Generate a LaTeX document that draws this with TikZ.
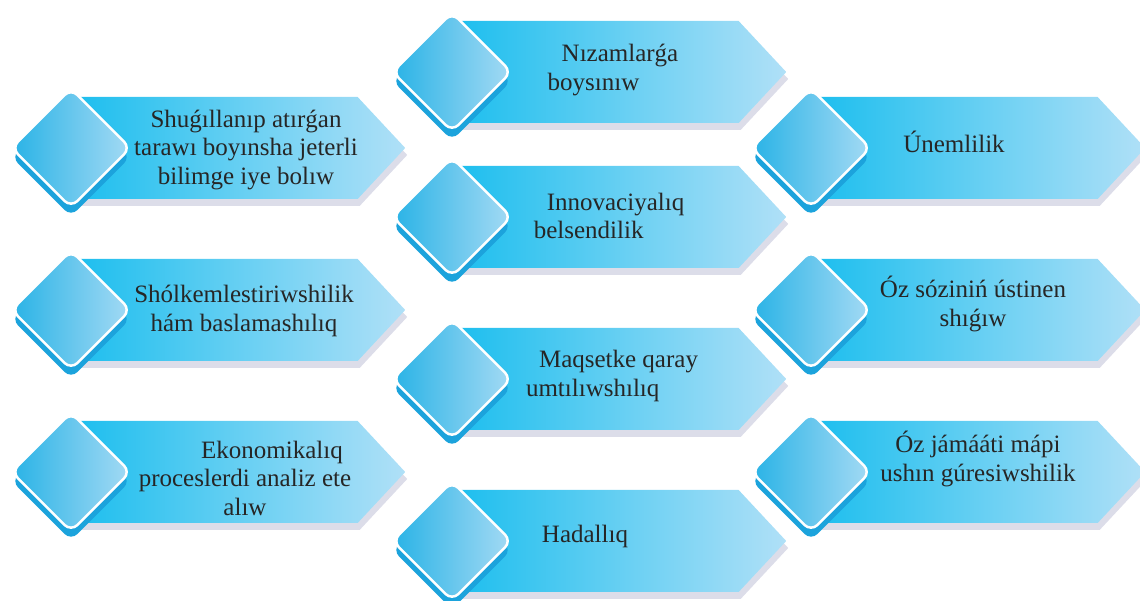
\documentclass[tikz,border=0pt]{standalone}
\usepackage{fontspec}
\setmainfont{Liberation Serif}
\usetikzlibrary{shapes.symbols,shadows}

\definecolor{bandleft}{HTML}{1BBEEE}
\definecolor{bandright}{HTML}{B0E0F7}
\definecolor{gemleft}{HTML}{29B3E6}
\definecolor{gemright}{HTML}{A4DAF4}
\definecolor{gemshade}{HTML}{1CA3DC}
\definecolor{bandshade}{HTML}{DCDDE9}

\tikzstyle{band} = [signal, signal to=east, signal pointer angle=94, minimum width=334pt, minimum height=102pt, inner sep=0pt, left color=bandleft, right color=bandright, drop shadow={shadow xshift=2pt, shadow yshift=-7pt, fill=bandshade, opacity=1}]
\tikzstyle{gem} = [rectangle, rotate=45, minimum size=84pt, rounded corners=9pt, draw=white, line width=2.5pt, left color=gemleft, right color=gemright, drop shadow={shadow xshift=0pt, shadow yshift=-9pt, fill=gemshade, opacity=1}]
\tikzstyle{txt} = [text=black!85, font=\fontsize{25}{28.5}\selectfont, align=center]

\begin{document}
\begin{tikzpicture}[x=1pt, y=1pt, node distance=162pt]
      \useasboundingbox (0,0) rectangle (1140,601);

      % bands
      \node (lb1) [band, anchor=west] at (71,453) {};
      \node (lb2) [band, below of=lb1] {};
      \node (lb3) [band, below of=lb2] {};
      \node (mb1) [band, anchor=west] at (452,529) {};
      \node (mb2) [band, below of=mb1, yshift=17pt] {};
      \node (mb3) [band, below of=mb2] {};
      \node (mb4) [band, below of=mb3] {};
      \node (rb1) [band, anchor=west] at (811,453) {};
      \node (rb2) [band, below of=rb1] {};
      \node (rb3) [band, below of=rb2] {};

      % diamonds
      \foreach \b in {lb1,lb2,lb3,mb1,mb2,mb3,mb4,rb1,rb2,rb3}
        \node (gem-\b) [gem] at (\b.west) {};

      % texts
      \node (lt1) [txt] at ([xshift=175pt, yshift=-2pt]gem-lb1.center) {Shuǵıllanıp atırǵan\\tarawı boyınsha jeterli\\bilimge iye bolıw};
      \node (lt2) [txt] at ([xshift=173pt, yshift=-1pt]gem-lb2.center) {Shólkemlestiriwshilik\\hám baslamashılıq};
      \node (lt3) [txt] at ([xshift=174pt, yshift=-6pt]gem-lb3.center) {\hspace*{54pt}Ekonomikalıq\\proceslerdi analiz ete\\alıw};
      \node (mt1) [txt, align=left] at ([xshift=161pt, yshift=2pt]gem-mb1.center) {\hspace*{14pt}Nızamlarǵa\\boysınıw};
      \node (mt2) [txt, align=left] at ([xshift=157pt, yshift=1pt]gem-mb2.center) {\hspace*{13pt}Innovaciyalıq\\belsendilik};
      \node (mt3) [txt, align=left] at ([xshift=160pt, yshift=3pt]gem-mb3.center) {\hspace*{13pt}Maqsetke qaray\\umtılıwshılıq};
      \node (mt4) [txt] at ([xshift=133pt, yshift=5pt]gem-mb4.center) {Hadallıq};
      \node (rt1) [txt] at ([xshift=143pt, yshift=6pt]gem-rb1.center) {Únemlilik};
      \node (rt2) [txt] at ([xshift=162pt, yshift=6pt]gem-rb2.center) {Óz sóziniń ústinen\\shıǵıw};
      \node (rt3) [txt] at ([xshift=167pt, yshift=13pt]gem-rb3.center) {Óz jámááti mápi\\ushın gúresiwshilik};
\end{tikzpicture}
\end{document}
